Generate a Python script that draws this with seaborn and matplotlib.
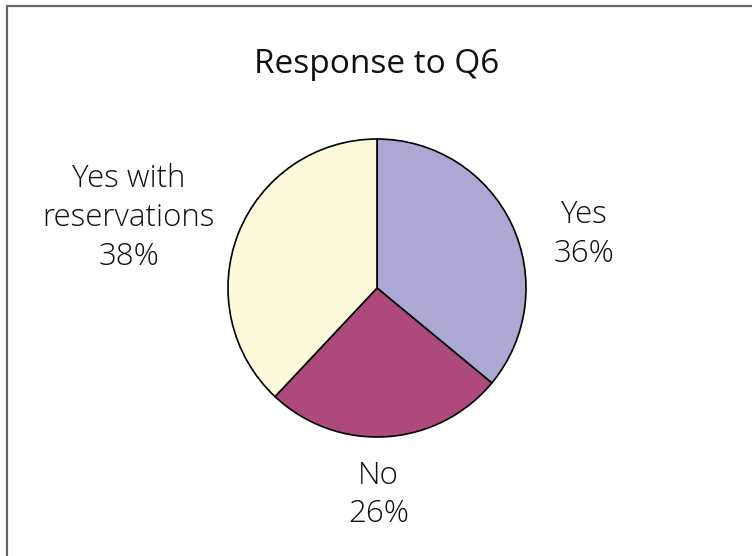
import matplotlib
matplotlib.use("Agg")
import matplotlib.pyplot as plt
from matplotlib.lines import Line2D
import seaborn as sns

# data
responses = ["Yes", "No", "Yes with\nreservations"]
shares = [36, 26, 38]
colors = ["#ABA9D4", "#AD4A7B", "#FDF9DB"]

sns.set_theme(style="white")
plt.rcParams["font.family"] = ["Open Sans", "DejaVu Sans"]

W, H = 752, 556
cx, cy, r = 377, 288, 149  # pie centre / radius in pixels

fig = plt.figure(figsize=(W / 100, H / 100), dpi=100)
ax = fig.add_axes([0, 0, 1, 1])

wedges, _ = ax.pie(shares, colors=colors, startangle=90, counterclock=False,
                   radius=1, wedgeprops=dict(edgecolor="black", linewidth=1.2))

# pie() resets limits/aspect, so fix them afterwards (1 unit = r pixels)
ax.set_aspect("auto")
ax.set_xlim(-cx / r, (W - cx) / r)
ax.set_ylim(-(H - cy) / r, cy / r)
ax.axis("off")

# label positions (data units, radius = 1)
label_pos = [(1.39, 0.36), (0.01, -1.39), (-1.665, 0.47)]
for name, pct, (lx, ly) in zip(responses, shares, label_pos):
    ax.text(lx, ly, f"{name}\n{pct}%", ha="center", va="center", fontsize=22.5,
            fontweight="light", linespacing=1.28, color="#111111")

ax.text(0, (cy - 73) / r, "Response to Q6", ha="center", va="baseline",
        fontsize=24, color="#111111")

# partial frame (top and left)
fig.add_artist(Line2D([7 / W, 7 / W], [0, 1 - 6 / H], transform=fig.transFigure,
                      color="#666666", linewidth=1.6))
fig.add_artist(Line2D([7 / W, 1], [1 - 6 / H, 1 - 6 / H], transform=fig.transFigure,
                      color="#666666", linewidth=1.6))

fig.savefig("out.png", dpi=100, facecolor="white")
